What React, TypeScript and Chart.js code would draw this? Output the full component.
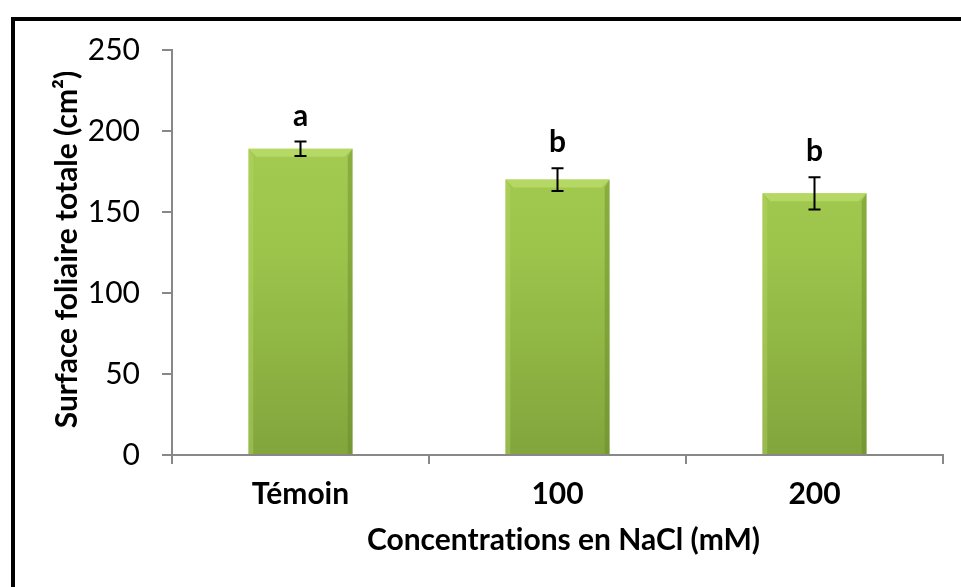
import React, { useEffect, useRef } from "react";
import { Chart, registerables } from "chart.js";

Chart.register(...registerables);

const categories = ["Témoin", "100", "200"];
const values = [189, 170, 161.5];
const errors = [4.5, 7, 10];
const letters = ["a", "b", "b"];
const yTicks = [0, 50, 100, 150, 200, 250];
const yTitle = "Surface foliaire totale (cm²)";
const xTitle = "Concentrations en NaCl (mM)";

const FONT = "Lato, 'Open Sans', sans-serif";

const decorPlugin = {
  id: "decor",
  beforeDraw(chart: any) {
    const ctx = chart.ctx;
    ctx.save();
    ctx.fillStyle = "#ffffff";
    ctx.fillRect(0, 0, chart.width, chart.height);
    ctx.fillStyle = "#000000";
    ctx.fillRect(11, 17, chart.width - 11, 4);
    ctx.fillRect(11, 17, 4, chart.height - 17);
    ctx.restore();
  },
  afterDatasetsDraw(chart: any) {
    const ctx = chart.ctx;
    const meta = chart.getDatasetMeta(0);
    const yScale = chart.scales.y;
    ctx.save();
    meta.data.forEach((bar: any, i: number) => {
      const left = bar.x - bar.width / 2;
      const right = bar.x + bar.width / 2;
      const top = bar.y;
      const bottom = bar.base;
      const b = 8;
      ctx.fillStyle = "rgba(190,222,110,0.7)";
      ctx.beginPath();
      ctx.moveTo(left, top);
      ctx.lineTo(right, top);
      ctx.lineTo(right - b, top + b);
      ctx.lineTo(left + b, top + b);
      ctx.closePath();
      ctx.fill();
      ctx.fillStyle = "rgba(185,215,105,0.4)";
      ctx.beginPath();
      ctx.moveTo(left, top);
      ctx.lineTo(left + b * 0.6, top + b);
      ctx.lineTo(left + b * 0.6, bottom);
      ctx.lineTo(left, bottom);
      ctx.closePath();
      ctx.fill();
      ctx.fillStyle = "rgba(100,130,40,0.4)";
      ctx.beginPath();
      ctx.moveTo(right, top);
      ctx.lineTo(right - b * 0.6, top + b);
      ctx.lineTo(right - b * 0.6, bottom);
      ctx.lineTo(right, bottom);
      ctx.closePath();
      ctx.fill();

      const v = values[i];
      const e = errors[i];
      const yt = yScale.getPixelForValue(v + e);
      const yb = yScale.getPixelForValue(v - e);
      ctx.strokeStyle = "#000000";
      ctx.lineWidth = 2;
      ctx.beginPath();
      ctx.moveTo(bar.x, yt);
      ctx.lineTo(bar.x, yb);
      ctx.moveTo(bar.x - 6, yt);
      ctx.lineTo(bar.x + 6, yt);
      ctx.moveTo(bar.x - 6, yb);
      ctx.lineTo(bar.x + 6, yb);
      ctx.stroke();

      ctx.fillStyle = "#000000";
      ctx.font = `bold 30px ${FONT}`;
      ctx.textAlign = "center";
      ctx.textBaseline = "alphabetic";
      ctx.fillText(letters[i], bar.x, yt - 16);
    });

    const ca = chart.chartArea;
    ctx.fillStyle = "#000000";
    ctx.font = `bold 30px ${FONT}`;
    ctx.textAlign = "center";
    ctx.textBaseline = "alphabetic";
    try {
      (ctx as any).textRendering = "optimizeSpeed";
    } catch (e) {}
    ctx.fillText(xTitle, (ca.left + ca.right) / 2 + 6, 550);
    ctx.save();
    ctx.translate(77, (ca.top + ca.bottom) / 2 - 3);
    ctx.rotate(-Math.PI / 2);
    ctx.fillText(yTitle, 0, 0);
    ctx.restore();
    ctx.restore();
  },
};

export default function App() {
  const ref = useRef<HTMLCanvasElement | null>(null);

  useEffect(() => {
    document.body.style.margin = "0";
    const canvas = ref.current!;
    const chart = new Chart(canvas, {
      type: "bar",
      data: {
        labels: categories,
        datasets: [
          {
            data: values,
            backgroundColor: (c: any) => {
              const area = c.chart.chartArea;
              if (!area) return "#9bc24a";
              const g = c.chart.ctx.createLinearGradient(0, area.top, 0, area.bottom);
              g.addColorStop(0, "#abd055");
              g.addColorStop(0.5, "#9cc44b");
              g.addColorStop(1, "#82a53c");
              return g;
            },
            borderWidth: 0,
            categoryPercentage: 1,
            barPercentage: 0.405,
          },
        ],
      },
      options: {
        responsive: false,
        animation: false,
        devicePixelRatio: 1,
        layout: { padding: { top: 50, right: 18, left: 0, bottom: 0 } },
        plugins: {
          legend: { display: false },
          tooltip: { enabled: false },
          title: { display: false },
        },
        scales: {
          x: {
            afterFit: (s: any) => {
              s.height = 132;
            },
            grid: {
              offset: true,
              drawOnChartArea: false,
              drawTicks: true,
              tickLength: 9,
              color: "#888888",
              lineWidth: 2,
            },
            border: { display: true, color: "#888888", width: 2 },
            ticks: {
              color: "#000000",
              padding: 12,
              font: { family: FONT, size: 30, weight: "bold" },
            },
          },
          y: {
            min: 0,
            max: 250,
            afterFit: (s: any) => {
              s.width = 172;
            },
            afterBuildTicks: (s: any) => {
              s.ticks = yTicks.map((v) => ({ value: v }));
            },
            grid: {
              drawOnChartArea: false,
              drawTicks: true,
              tickLength: 10,
              color: "#888888",
              lineWidth: 2,
            },
            border: { display: true, color: "#888888", width: 2 },
            ticks: {
              color: "#000000",
              padding: 22,
              font: { family: FONT, size: 30 },
            },
          },
        },
      },
      plugins: [decorPlugin],
    });
    return () => chart.destroy();
  }, []);

  return (
    <div style={{ position: "absolute", left: 0, top: 0, width: 961, height: 587 }}>
      <canvas ref={ref} width={961} height={587} style={{ display: "block" }} />
    </div>
  );
}
